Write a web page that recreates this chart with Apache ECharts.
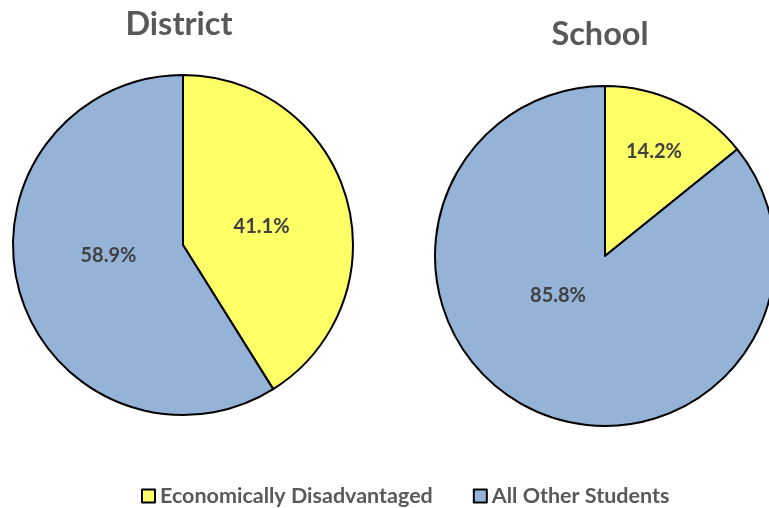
<!DOCTYPE html>
<html><head><meta charset="utf-8">
<script src="https://cdn.jsdelivr.net/npm/echarts@6/dist/echarts.min.js"></script>
<style>html,body{margin:0;padding:0;background:#fff}#c{width:769px;height:508px}</style>
</head><body><div id="c"></div>
<script>
const categories = ['Economically Disadvantaged', 'All Other Students'];
const districtValues = [41.1, 58.9];
const schoolValues = [14.2, 85.8];
const pieTitles = ['District', 'School'];
const colors = ['#FFFF66', '#95B3D7'];
// label nudges (style only), to mimic best-fit placement
const districtLabelOffsets = [[-6, 6], [10, -14]];
const schoolLabelOffsets = [[11, -25], [-9, -40]];

const chart = echarts.init(document.getElementById('c'), null, {renderer: 'canvas'});
function mk(vals, offs) { return categories.map((n, i) => ({name: n, value: vals[i], label: {offset: offs[i]}})); }
const font = 'Lato, "Open Sans", sans-serif';
const pieBase = {
  type: 'pie', radius: 170, startAngle: 90, clockwise: true,
  color: colors,
  itemStyle: {borderColor: '#000', borderWidth: 2},
  label: {show: true, position: 'inside', formatter: p => p.value.toFixed(1) + '%',
    color: '#404040', fontSize: 20, fontWeight: 'bold', fontFamily: font},
  labelLine: {show: false},
  emphasis: {disabled: true}, animation: false
};
chart.setOption({
  animation: false,
  title: [
    {text: pieTitles[0], left: 174, top: 3, textAlign: 'center',
      textStyle: {fontSize: 32.5, fontWeight: 'bold', color: '#595959', fontFamily: font}},
    {text: pieTitles[1], left: 595, top: 13, textAlign: 'center',
      textStyle: {fontSize: 32.5, fontWeight: 'bold', color: '#595959', fontFamily: font}}
  ],
  legend: {
    data: categories, top: 480, left: 136, icon: 'rect', itemWidth: 13, itemHeight: 13,
    itemGap: 40, itemStyle: {borderColor: '#000', borderWidth: 2},
    textStyle: {fontSize: 21.5, fontWeight: 'bold', color: '#595959', fontFamily: font}
  },
  series: [
    Object.assign({}, pieBase, {name: pieTitles[0], center: [183, 245], data: mk(districtValues, districtLabelOffsets)}),
    Object.assign({}, pieBase, {name: pieTitles[1], center: [605, 256], data: mk(schoolValues, schoolLabelOffsets)})
  ]
});
</script></body></html>
